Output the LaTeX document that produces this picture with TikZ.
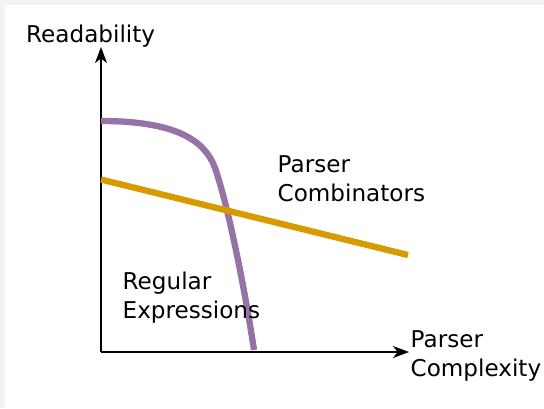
\documentclass[tikz,border=0pt]{standalone}
\usepackage{fontspec}
\setmainfont{DejaVu Sans}
\usetikzlibrary{arrows.meta}
\definecolor{curvepurple}{HTML}{9673A6}
\definecolor{lineorange}{HTML}{D79B00}
\definecolor{bandgray}{HTML}{F2F2F2}
\begin{document}
\begin{tikzpicture}[x=1pt,y=-1pt,
  axis/.style={line width=1.6pt,-{Stealth[length=16pt,width=12pt,inset=4.5pt]}},
  lbl/.style={font=\fontsize{23.1}{29.5}\selectfont, inner sep=0pt, align=left, anchor=north west},
  thick curve/.style={line width=6.3pt}]
\fill[bandgray] (0,0) rectangle (544,408);
\fill[white] (5,5) rectangle (544,408);
\useasboundingbox (0,0) rectangle (544,408);
% axes
\coordinate (O) at (101,352);
\coordinate (ytop) at (101,47);
\coordinate (xend) at (409,352);
\draw[axis] (O) -- (ytop);
\draw[axis] (O) -- (xend);
% purple curve
\coordinate (pstart) at (101,121);
\coordinate (pmid) at (215,168);
\coordinate (pend) at (254,350);
\draw[thick curve, curvepurple] (pstart) .. controls (175,121) and (205,140) .. (pmid)
  .. controls (228,205) and (245,290) .. (pend);
% orange line
\coordinate (ostart) at (101,179.5);
\coordinate (oend) at (408,255);
\draw[thick curve, lineorange] (ostart) -- (oend);
% labels
\node[lbl] (readability) at (26,25) {Readability};
\node[lbl] (pc) at (277.5,155.3) {Parser\\Combinators};
\node[lbl] (re) at (122.5,271.5) {Regular\\Expressions};
\node[lbl] (pcx) at (410.5,330.3) {Parser\\Complexity};
\end{tikzpicture}
\end{document}
